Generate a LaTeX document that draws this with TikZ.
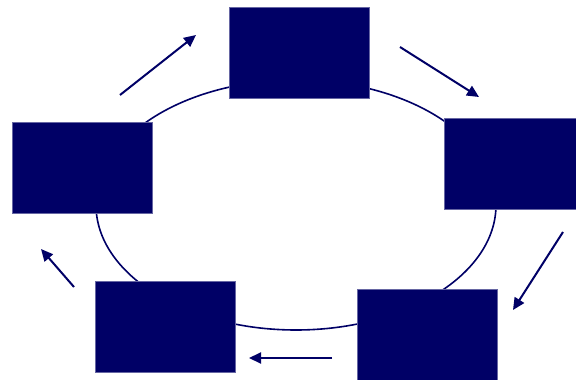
\documentclass[tikz,border=0pt]{standalone}
\usepackage{tikz}
\usetikzlibrary{arrows.meta, positioning}
\definecolor{navy}{HTML}{000066}

\begin{document}
\begin{tikzpicture}[
  x=1pt, y=-1pt,
  box/.style={draw=navy!60, fill=navy, minimum height=91pt, minimum width=140pt, inner sep=0pt},
  arr/.style={-{Triangle[length=12pt, width=11pt]}, line width=2pt, navy}
]
\useasboundingbox (0,0) rectangle (576,380);
\draw[navy, line width=1.6pt] (296,205) ellipse [x radius=200, y radius=125];
\node[box] (top)    at (299,52.5)  {};
\node[box, minimum width=132pt] (right) at (510,164) {};
\node[box] (lowr)   at (427,335)  {};
\node[box] (lowl)   at (165,327)  {};
\node[box] (left)   at (82,167.5) {};
\coordinate (a1) at (120,95);  \coordinate (b1) at (196,35);
\coordinate (a2) at (400,47);  \coordinate (b2) at (479,97);
\coordinate (a3) at (563,232); \coordinate (b3) at (513,310);
\coordinate (a4) at (332,358); \coordinate (b4) at (249,358);
\coordinate (a5) at (74,287);  \coordinate (b5) at (41,249);
\draw[arr] (a1) -- (b1);
\draw[arr] (a2) -- (b2);
\draw[arr] (a3) -- (b3);
\draw[arr] (a4) -- (b4);
\draw[arr] (a5) -- (b5);
\end{tikzpicture}
\end{document}
